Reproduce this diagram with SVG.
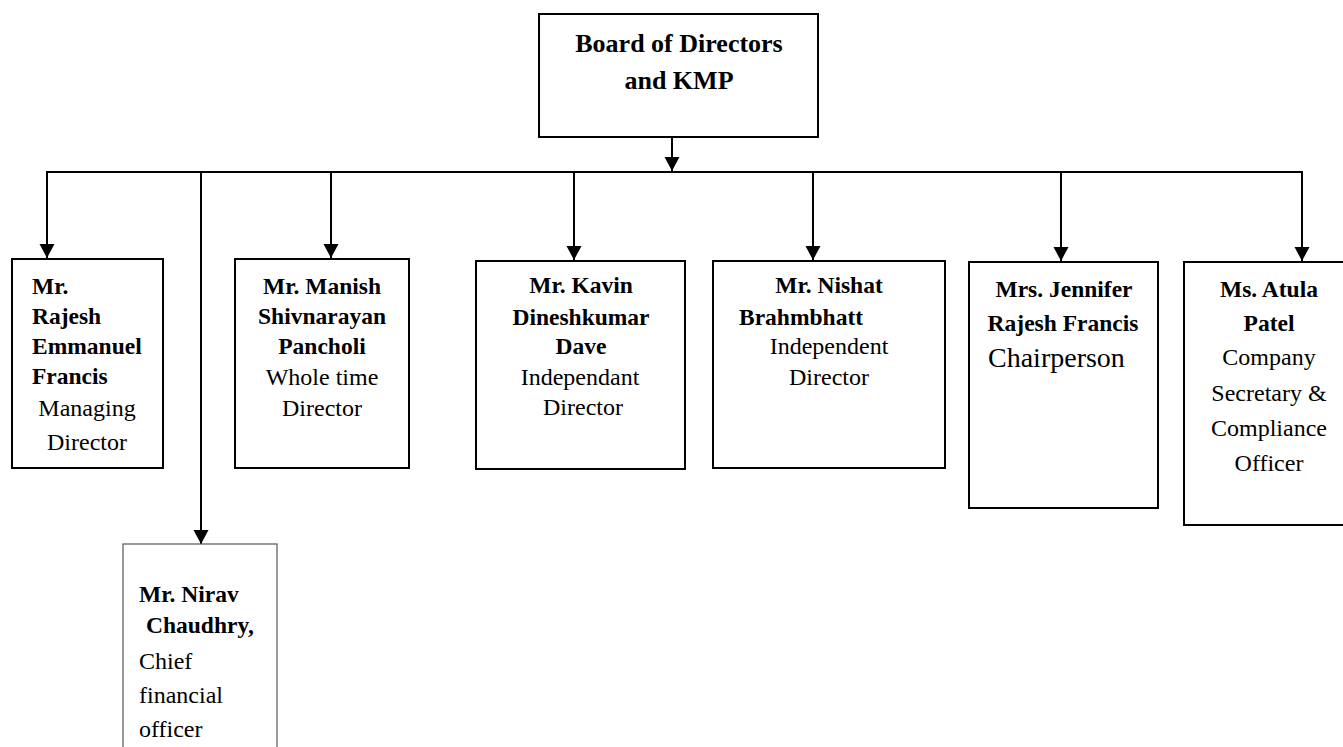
<svg xmlns="http://www.w3.org/2000/svg" width="1343" height="747" viewBox="0 0 1343 747">
<style>
.box{fill:#fff;stroke:#000;stroke-width:2}
.thin{fill:#fff;stroke:#555;stroke-width:1.2}
.ln{fill:none;stroke:#000;stroke-width:2}
text{font-family:"Liberation Serif","Times New Roman",serif;fill:#000}
.b{font-weight:bold;font-size:23.5px}
.r{font-size:24px}
.c{text-anchor:middle}
</style>
<defs>
<marker id="ah" markerUnits="userSpaceOnUse" markerWidth="16" markerHeight="16" refX="14" refY="7.5" orient="auto">
<path d="M0,0 L14,7.5 L0,15 Z" fill="#000"/>
</marker>
</defs>
<g id="connectors">
<line class="ln" x1="672" y1="137" x2="672" y2="171" marker-end="url(#ah)"/>
<polyline class="ln" points="47,258 47,172 1302,172 1302,261" stroke-linejoin="miter"/>
<line class="ln" x1="47" y1="200" x2="47" y2="258" marker-end="url(#ah)"/>
<line class="ln" x1="1302" y1="200" x2="1302" y2="261" marker-end="url(#ah)"/>
<line class="ln" x1="201" y1="172" x2="201" y2="544" marker-end="url(#ah)"/>
<line class="ln" x1="331" y1="172" x2="331" y2="258" marker-end="url(#ah)"/>
<line class="ln" x1="574" y1="172" x2="574" y2="260" marker-end="url(#ah)"/>
<line class="ln" x1="813" y1="172" x2="813" y2="260" marker-end="url(#ah)"/>
<line class="ln" x1="1061" y1="172" x2="1061" y2="261" marker-end="url(#ah)"/>
</g>
<g id="board">
<rect class="box" x="539" y="14" width="279" height="123"/>
<text class="c" x="679" y="52" font-weight="bold" font-size="26">Board of Directors</text>
<text class="c" x="679" y="89" font-weight="bold" font-size="26">and KMP</text>
</g>
<g id="rajesh">
<rect class="box" x="12" y="259" width="151" height="209"/>
<text class="b" x="32" y="294">Mr.</text>
<text class="b" x="32" y="324">Rajesh</text>
<text class="b" x="32" y="354">Emmanuel</text>
<text class="b" x="32" y="384">Francis</text>
<text class="r c" x="87" y="416">Managing</text>
<text class="r c" x="87" y="450">Director</text>
</g>
<g id="manish">
<rect class="box" x="235" y="259" width="174" height="209"/>
<text class="b c" x="322" y="294">Mr. Manish</text>
<text class="b c" x="322" y="324">Shivnarayan</text>
<text class="b c" x="322" y="354">Pancholi</text>
<text class="r c" x="322" y="385">Whole time</text>
<text class="r c" x="322" y="416">Director</text>
</g>
<g id="kavin">
<rect class="box" x="476" y="261" width="209" height="208"/>
<text class="b c" x="581" y="293">Mr. Kavin</text>
<text class="b c" x="581" y="325">Dineshkumar</text>
<text class="b c" x="581" y="354">Dave</text>
<text class="r c" x="580" y="385">Independant</text>
<text class="r c" x="583" y="415">Director</text>
</g>
<g id="nishat">
<rect class="box" x="713" y="261" width="232" height="207"/>
<text class="b c" x="829" y="293">Mr. Nishat</text>
<text class="b" x="739" y="325">Brahmbhatt</text>
<text class="r c" x="829" y="354">Independent</text>
<text class="r c" x="829" y="385">Director</text>
</g>
<g id="jennifer">
<rect class="box" x="969" y="262" width="189" height="246"/>
<text class="b c" x="1064" y="297">Mrs. Jennifer</text>
<text class="b c" x="1063" y="331">Rajesh Francis</text>
<text x="988" y="367" font-size="28">Chairperson</text>
</g>
<g id="atula">
<rect class="box" x="1184" y="262" width="170" height="263"/>
<text class="b c" x="1269" y="297">Ms. Atula</text>
<text class="b c" x="1269" y="331">Patel</text>
<text class="r c" x="1269" y="365">Company</text>
<text class="r c" x="1269" y="401">Secretary &amp;</text>
<text class="r c" x="1269" y="436">Compliance</text>
<text class="r c" x="1269" y="471">Officer</text>
</g>
<g id="nirav">
<rect class="thin" x="123" y="544" width="154" height="220"/>
<text class="b" x="139" y="602">Mr. Nirav</text>
<text class="b" x="146" y="633">Chaudhry,</text>
<text class="r" x="139" y="669">Chief</text>
<text class="r" x="139" y="703">financial</text>
<text class="r" x="139" y="737">officer</text>
</g>
</svg>
